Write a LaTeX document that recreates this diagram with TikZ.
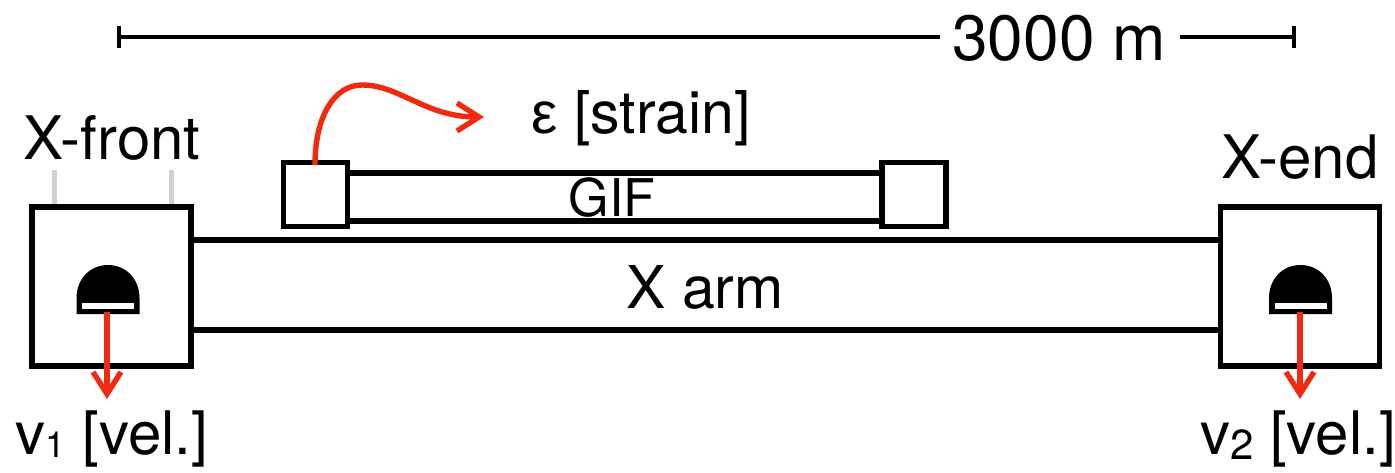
\documentclass[tikz,border=0pt]{standalone}
\usepackage{fontspec}
\setmainfont{TeX Gyre Heros}
\newfontfamily\greekf{Liberation Sans}
\usetikzlibrary{arrows.meta}
\definecolor{redline}{HTML}{F02A10}
\newcommand{\fs}[1]{\fontsize{#1}{#1}\selectfont}
\tikzset{
  x=1pt,y=-1pt,
  station/.style={draw=black,line width=5.6pt,fill=white,minimum size=159pt,outer sep=0pt,inner sep=0pt},
  mirror/.style={draw=black,line width=5.6pt,fill=white,minimum size=64pt,outer sep=0pt,inner sep=0pt},
  tube/.style={draw=black,line width=5.4pt},
  scalebar/.style={draw=black,line width=4.6pt},
  signal/.style={draw=redline,line width=5.4pt,-{Straight Barb[length=22pt,width=28pt,line width=5.4pt]}},
  mast/.style={draw=black!18,line width=5pt},
  lbl/.style={inner sep=0pt,outer sep=0pt,anchor=base,text=black},
  dome/.style={fill=black},
  slit/.style={fill=white}
}
\newcommand{\detector}[2]{%
  \path[dome] (#1-31.5,298) .. controls (#1-31.5,279) and (#1-18,265) .. (#1,265)
     .. controls (#1+18,265) and (#1+31.5,279) .. (#1+31.5,298) -- (#1+31.5,314) -- (#1-31.5,314) -- cycle;
  \path[slit] (#1-26,303) rectangle (#1+26,309);
  \coordinate (#2) at (#1,312);
}
\begin{document}
\begin{tikzpicture}
\useasboundingbox (0,0) rectangle (1395,472);
\fill[white] (0,0) rectangle (1395,472);

% masts
\coordinate (m1) at (54,170);
\coordinate (m2) at (171,170);
\coordinate (m1b) at (54,206);
\coordinate (m2b) at (171,206);
\draw[mast] (m1) -- (m1b);
\draw[mast] (m2) -- (m2b);

% stations
\node[station] (xf) at (111.25,286.25) {};
\node[station] (xe) at (1300,286.25) {};
\draw[tube] (xf.east |- 0,240) -- (xe.west |- 0,240);
\draw[tube] (xf.east |- 0,330) -- (xe.west |- 0,330);

% GIF
\node[mirror] (g1) at (315.5,194.5) {};
\node[mirror] (g2) at (914,194.5) {};
\draw[tube] (g1.east |- 0,173) -- (g2.west |- 0,173);
\draw[tube] (g1.east |- 0,221) -- (g2.west |- 0,221);

% detectors
\detector{108}{d1}
\detector{1300.5}{d2}

% labels
\node[lbl] (t3000) at (1059,60) {\fs{64}3000 m};
\node[lbl] (txf) at (112,159) {\fs{60}X-front};
\node[lbl] (txe) at (1300,178) {\fs{60}X-end};
\node[lbl] (tgif) at (612,216) {\fs{52}GIF};
\node[lbl] (tarm) at (705,308) {\fs{59}X arm};
\node[lbl] (tstrain) at (641,133) {\fs{59}{\greekf ε} [strain]};
\node[lbl] (tv1) at (112,454) {\fs{60}v\fs{36}\raisebox{-3pt}{1}\fs{60} [vel.]};
\node[lbl] (tv2) at (1298,454) {\fs{60}v\fs{42}\raisebox{-5pt}{2}\fs{60} [vel.]};

% scale bar
\coordinate (sl) at (119,37);
\coordinate (sr) at (1294,37);
\coordinate (slt) at (119,26);
\coordinate (slb) at (119,48);
\coordinate (srt) at (1294,26);
\coordinate (srb) at (1294,48);
\coordinate (sa) at (940,37);
\coordinate (sb) at (1180,37);
\draw[scalebar] (sl) -- (sa);
\draw[scalebar] (sb) -- (sr);
\draw[scalebar] (slt) -- (slb);
\draw[scalebar] (srt) -- (srb);

% signals
\coordinate (a1) at (107,399);
\coordinate (a2) at (1300,399);
\draw[signal] (d1 -| a1) -- (a1);
\draw[signal] (d2 -| a2) -- (a2);
\coordinate (c0) at (315,165);
\coordinate (c1) at (484,117);
\draw[signal] (c0) .. controls (315,115) and (335,85) .. (362,85)
   .. controls (400,85) and (425,117) .. (c1);
\end{tikzpicture}
\end{document}
